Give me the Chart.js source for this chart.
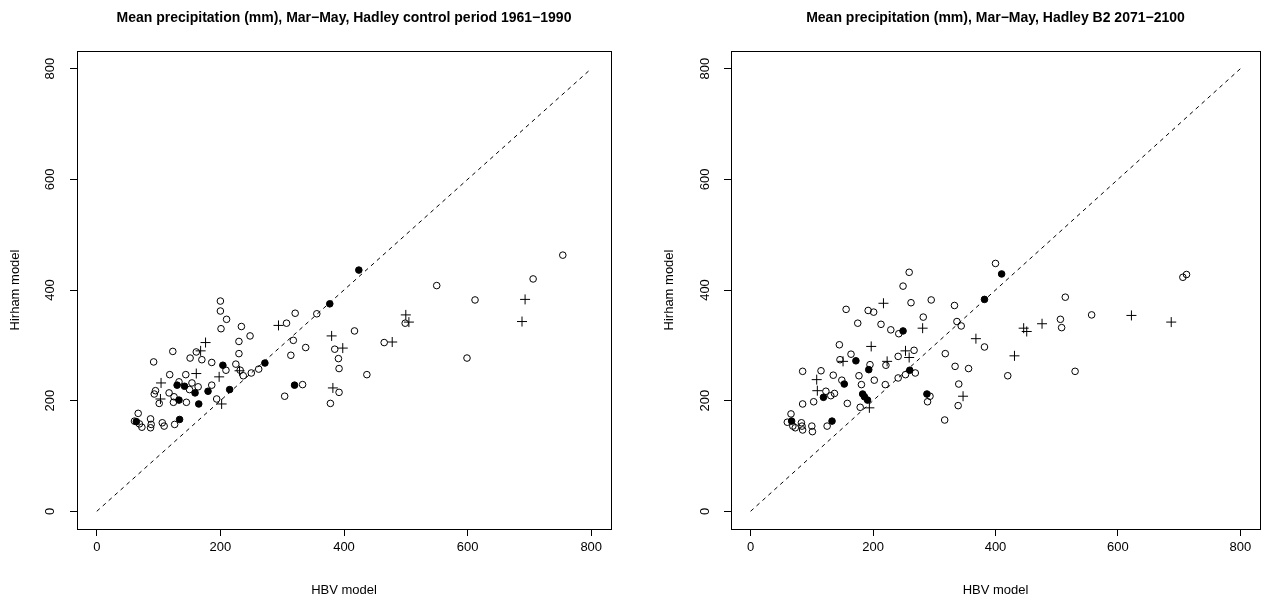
<!DOCTYPE html>
<html lang="en">
<head>
<meta charset="UTF-8">
<title>Mean precipitation, HBV vs Hirham</title>
<script src="https://cdn.jsdelivr.net/npm/chart.js"></script>
<style>
    html, body { margin: 0; padding: 0; background: #fff; }
    #wrap { position: relative; width: 1266px; height: 603px; }
    #wrap canvas { position: absolute; top: 0; }
</style>
</head>
<body>
<div id="wrap">
    <canvas id="controlChart" width="640" height="603" style="left:0"></canvas>
    <canvas id="futureChart" width="626" height="603" style="left:640px"></canvas>
</div>
<script>
// axis ticks shared by both panels
const tickValues = [0, 200, 400, 600, 800];
const axisMin = -32, axisMax = 832;

// 1961-1990 control period: [HBV, Hirham]
const controlOpen = [
    [200, 380], [200, 362], [210, 347], [201, 330], [234, 334], [248, 317], [230, 307], [230, 285],
    [161, 288], [123, 289], [92, 270], [151, 277], [170, 274], [186, 269], [209, 255], [225, 266],
    [232, 255], [237, 245], [250, 250], [262, 257], [118, 247], [144, 247], [133, 234], [154, 232],
    [164, 225], [150, 220], [186, 228], [194, 203], [95, 218], [93, 212], [117, 214], [125, 207],
    [124, 197], [145, 197], [101, 195], [67, 177], [61, 163], [69, 158], [73, 152], [87, 167],
    [88, 157], [87, 151], [106, 160], [109, 154], [126, 157], [321, 358], [356, 357], [307, 340],
    [318, 309], [338, 296], [314, 282], [333, 229], [304, 208], [385, 293], [391, 276], [392, 258],
    [392, 215], [378, 195], [417, 326], [437, 247], [465, 305], [499, 340], [550, 408], [612, 382],
    [599, 277], [706, 420], [754, 463]
];
const controlFilled = [
    [424, 436], [377, 375], [272, 268], [204, 264], [130, 228], [142, 226], [159, 214], [180, 217],
    [215, 220], [133, 201], [165, 194], [64, 162], [134, 166], [320, 228]
];
const controlPlus = [
    [176, 305], [168, 290], [161, 249], [198, 243], [104, 232], [103, 203], [202, 194], [231, 254],
    [294, 336], [380, 317], [398, 295], [382, 223], [478, 306], [500, 355], [505, 342], [693, 383],
    [688, 343]
];

// B2 scenario 2071-2100: [HBV, Hirham]
const futureOpen = [
    [156, 365], [192, 363], [201, 360], [175, 340], [213, 338], [229, 328], [242, 321], [145, 301],
    [164, 284], [146, 274], [195, 265], [221, 264], [241, 280], [85, 253], [115, 254], [135, 246],
    [149, 237], [177, 245], [181, 229], [202, 237], [220, 229], [123, 217], [137, 213], [131, 209],
    [103, 198], [85, 194], [158, 195], [179, 188], [66, 176], [60, 161], [69, 154], [73, 151],
    [83, 160], [84, 154], [85, 147], [100, 154], [101, 144], [125, 154], [400, 448], [259, 432],
    [249, 407], [514, 387], [262, 377], [295, 382], [333, 372], [282, 351], [337, 343], [344, 335],
    [506, 347], [508, 332], [382, 297], [530, 253], [318, 285], [334, 262], [356, 258], [420, 245],
    [340, 230], [339, 191], [317, 165], [293, 208], [289, 198], [267, 291], [269, 250], [253, 247],
    [241, 241], [706, 423], [712, 428], [557, 355]
];
const futureFilled = [
    [410, 429], [382, 383], [249, 326], [172, 272], [193, 256], [153, 230], [119, 206], [183, 212],
    [186, 207], [191, 201], [67, 163], [133, 163], [288, 212], [260, 255]
];
const futurePlus = [
    [217, 376], [197, 298], [151, 271], [223, 271], [108, 238], [109, 218], [194, 187], [281, 331],
    [253, 290], [259, 278], [368, 312], [446, 331], [451, 325], [476, 339], [431, 281], [347, 208],
    [622, 354], [687, 342]
];

const FONT = "'Liberation Sans', Arial, Helvetica, sans-serif";

const toPoints = arr => arr.map(p => ({ x: p[0], y: p[1] }));

// frame around the plotting region
const plotBox = {
    id: 'plotBox',
    afterDatasetsDraw(chart) {
        const { ctx, chartArea: a } = chart;
        ctx.save();
        ctx.strokeStyle = '#000';
        ctx.lineWidth = 1;
        ctx.strokeRect(Math.round(a.left) + 0.5, Math.round(a.top) + 0.5,
            Math.round(a.right - a.left), Math.round(a.bottom - a.top));
        ctx.restore();
    }
};

function makeChart(id, titleText, open, filled, plus, yAxisWidth, yTitlePad, yTickPad, padRight) {
    const setTicks = s => { s.ticks = tickValues.map(v => ({ value: v })); };
    return new Chart(document.getElementById(id), {
        type: 'scatter',
        data: {
            datasets: [
                {
                    type: 'line',
                    data: [{ x: 0, y: 0 }, { x: 800, y: 800 }],
                    borderColor: '#000',
                    borderWidth: 1,
                    borderDash: [4, 4],
                    pointRadius: 0,
                    fill: false
                },
                {
                    data: toPoints(open),
                    pointStyle: 'circle',
                    pointRadius: 3.3,
                    pointBorderWidth: 1,
                    pointBorderColor: '#000',
                    pointBackgroundColor: 'rgba(0,0,0,0)'
                },
                {
                    data: toPoints(plus),
                    pointStyle: 'cross',
                    pointRadius: 5,
                    pointBorderWidth: 1,
                    pointBorderColor: '#000'
                },
                {
                    data: toPoints(filled),
                    pointStyle: 'circle',
                    pointRadius: 3.3,
                    pointBorderWidth: 1,
                    pointBorderColor: '#000',
                    pointBackgroundColor: '#000'
                }
            ]
        },
        options: {
            responsive: false,
            animation: false,
            devicePixelRatio: 1,
            layout: { padding: { left: 0, right: padRight, top: 0, bottom: 0 } },
            plugins: {
                legend: { display: false },
                tooltip: { enabled: false },
                title: {
                    display: true,
                    fullSize: false,
                    text: titleText,
                    color: '#000',
                    font: { family: FONT, size: 14, weight: 'bold', lineHeight: 1.2 },
                    padding: { top: 10, bottom: 24.2 }
                }
            },
            scales: {
                x: {
                    type: 'linear',
                    min: axisMin,
                    max: axisMax,
                    afterBuildTicks: setTicks,
                    afterFit: s => { s.height = 74; },
                    border: { display: false },
                    grid: { drawOnChartArea: false, drawTicks: true, tickLength: 7, color: '#000', lineWidth: 1 },
                    ticks: { color: '#000', font: { family: FONT, size: 13 }, padding: 4, maxRotation: 0, minRotation: 0 },
                    title: {
                        display: true, text: 'HBV model', color: '#000',
                        font: { family: FONT, size: 13, lineHeight: 1.2 }, padding: { top: 0, bottom: 5 }
                    }
                },
                y: {
                    type: 'linear',
                    min: axisMin,
                    max: axisMax,
                    afterBuildTicks: setTicks,
                    afterFit: s => { s.width = yAxisWidth; },
                    border: { display: false },
                    grid: { drawOnChartArea: false, drawTicks: true, tickLength: 7, color: '#000', lineWidth: 1 },
                    ticks: {
                        color: '#000', font: { family: FONT, size: 13 }, padding: yTickPad,
                        minRotation: 90, maxRotation: 90, crossAlign: 'center'
                    },
                    title: {
                        display: true, text: 'Hirham model', color: '#000',
                        font: { family: FONT, size: 13, lineHeight: 1.2 }, padding: { top: yTitlePad, bottom: 0 }
                    }
                }
            }
        },
        plugins: [plotBox]
    });
}

makeChart('controlChart', 'Mean precipitation (mm), Mar\u2212May, Hadley control period 1961\u22121990',
    controlOpen, controlFilled, controlPlus, 77, 8, 9, 29);
makeChart('futureChart', 'Mean precipitation (mm), Mar\u2212May, Hadley B2 2071\u22122100',
    futureOpen, futureFilled, futurePlus, 91, 22, 8, 3);
</script>
</body>
</html>
